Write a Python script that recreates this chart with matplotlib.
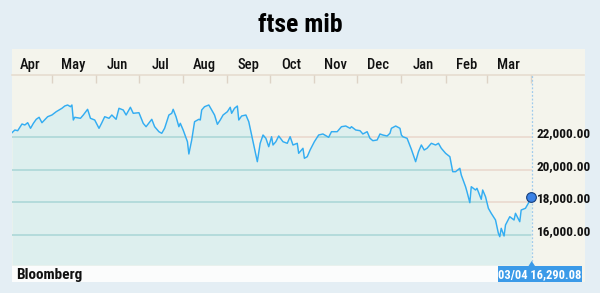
import numpy as np
import matplotlib.pyplot as plt
import matplotlib.dates as mdates
from matplotlib.patches import Rectangle, Polygon
from matplotlib.lines import Line2D

plt.rcParams['font.family'] = ['Roboto Condensed', 'DejaVu Sans']

# ftse mib, daily-ish closes (days counted from first point)
start = np.datetime64('2011-04-03')
days = [0, 2, 4, 7, 9, 11, 13, 15, 17, 19, 21, 24, 25, 28, 31, 35, 37, 39, 41, 42,
        43, 44, 48, 50, 53, 55, 58, 61, 63, 65, 68, 70, 73, 75, 78, 80, 83, 85, 89, 92,
        94, 98, 100, 103, 105, 107, 110, 112, 113, 115, 117, 118, 120, 123, 124, 126, 128, 131, 132, 133,
        135, 138, 140, 142, 144, 146, 148, 151, 153, 154, 156, 158, 159, 161, 164, 166, 169, 172, 174, 176,
        178, 180, 182, 183, 185, 187, 190, 193, 195, 197, 200, 201, 204, 205, 207, 209, 212, 215, 218, 222,
        224, 228, 231, 234, 237, 238, 241, 244, 246, 249, 251, 253, 256, 258, 260, 263, 265, 266, 269, 272,
        273, 274, 277, 280, 283, 285, 287, 289, 291, 294, 297, 299, 301, 304, 307, 309, 311, 314, 315, 318,
        319, 321, 322, 325, 326, 329, 330, 332, 334, 336, 339, 341, 342, 343, 345, 346, 349, 352, 353, 356,
        357, 360, 362, 364]
values = [22263, 22428, 22386, 22796, 22734, 22875, 22532, 22838, 23083, 23206, 22875, 23144, 23242, 23346, 23548, 23756, 23897, 23958, 23854, 23958,
          23040, 23206, 23144, 23346, 23695, 23144, 23040, 22532, 22875, 23242, 23144, 23346, 23083, 23756, 23652, 23346, 23818, 23450, 23487, 22838,
          22630, 23083, 22630, 22324, 22226, 22532, 23346, 23450, 23695, 23242, 22630, 22838, 22428, 21712, 20960, 21816, 22936, 23083, 23040, 23652,
          23854, 23958, 23652, 23346, 22777, 23040, 23346, 23548, 23818, 23450, 23756, 23897, 23040, 23285, 23346, 22936, 21712, 20488, 21614, 22122,
          21920, 21406, 22018, 21510, 21712, 22061, 21712, 21614, 22018, 21510, 21614, 21002, 21308, 20696, 20794, 21204, 21712, 22122, 22184, 21982,
          22324, 22324, 22630, 22673, 22532, 22630, 22428, 22386, 22184, 22324, 21920, 21774, 21816, 22184, 22122, 22061, 22226, 22532, 22673, 22532,
          22122, 22018, 21920, 21247, 20488, 21100, 21510, 21204, 21308, 21614, 21510, 21614, 21308, 21002, 20794, 19876, 19876, 20084, 19674, 18958,
          18652, 17979, 18958, 18756, 18860, 18187, 18756, 18346, 17636, 17330, 16920, 16106, 15898, 16412, 15941, 16614, 17122, 16920, 17330, 16816,
          17532, 17636, 17942, 18310]
gridvals = [16000, 18000, 20000, 22000]
gridlabels = ['16,000.00', '18,000.00', '20,000.00', '22,000.00']
title = 'ftse mib'
source = 'Bloomberg'
last_label = '03/04 16,290.08'

dates = start + np.array(days).astype('timedelta64[D]')

W, H = 600, 293
fig = plt.figure(figsize=(6, 2.93), dpi=100)
fig.patch.set_facecolor('#e4eef4')


def fx(px):
    return px / W


def fy(py):
    return 1 - py / H


# panel + header
fig.add_artist(Rectangle((fx(12), fy(282)), fx(585) - fx(12), fy(49) - fy(282),
                         transform=fig.transFigure, facecolor='#f4f4ec', edgecolor='none', zorder=-2))
fig.add_artist(Line2D([fx(12), fx(584)], [fy(75), fy(75)], transform=fig.transFigure,
                      color='#e6ddd0', lw=1.2, zorder=-1))
fig.text(0.5, fy(32), title, ha='center', va='baseline', fontsize=18.5, fontweight='heavy', color='black')

ax = fig.add_axes([fx(12), fy(265), fx(532) - fx(12), fy(75) - fy(265)])
ax.set_facecolor('none')
ymin, ymax = 14166, 25794
ax.set_ylim(ymin, ymax)
ax.set_xlim(start, start + np.timedelta64(365, 'D') - np.timedelta64(10, 'h'))

poly = ax.fill_between(dates, values, ymin, color='#ddefee', lw=0, zorder=1)
clip_path = poly.get_paths()[0]
for v in gridvals:
    ax.axhline(v, color='#ead9cf', lw=1.2, zorder=0.5)
    gl = ax.axhline(v, color='#acd8d8', lw=1.2, zorder=1.5)
    gl.set_clip_path(clip_path, ax.transData)

ax.plot(dates, values, color='#33adf2', lw=1.05, zorder=3)
ax.plot(dates[-1:], values[-1:], 'o', ms=7, mfc='#3b82e6', mec='#163f7c', mew=0.8, zorder=5, clip_on=False)

for s in ax.spines.values():
    s.set_visible(False)
ax.axvline(ax.get_xlim()[1], color='#9fcbec', lw=0.9, ls=(0, (1.5, 1.5)), zorder=2, clip_on=False)

ax.xaxis.tick_top()
ax.xaxis.set_major_locator(mdates.MonthLocator())
ax.xaxis.set_major_formatter(plt.NullFormatter())
ax.xaxis.set_minor_locator(mdates.MonthLocator(bymonthday=16))
ax.xaxis.set_minor_formatter(mdates.DateFormatter('%b'))
ax.tick_params(axis='x', which='major', direction='in', length=6, width=1, color='#ddd3c6')
ax.tick_params(axis='x', which='minor', length=0, pad=2.5, labelsize=10.5, labelcolor='#111111')
for t in ax.xaxis.get_minorticklabels():
    t.set_fontweight('medium')
ax.set_yticks([])

ytrans = ax.get_yaxis_transform()
for v, lab in zip(gridvals, gridlabels):
    ax.text(1.0096, v, lab, transform=ytrans, ha='left', va='baseline',
            fontsize=9.5, fontweight='bold', color='#111111', clip_on=False)

# bottom bar
fig.add_artist(Rectangle((fx(12), fy(282)), fx(497.5) - fx(12), fy(266) - fy(282),
                         transform=fig.transFigure, facecolor='#fbfcfc', edgecolor='none', zorder=1))
fig.text(fx(16), fy(278.5), source, ha='left', va='baseline', fontsize=11, fontweight='bold', color='#111111')
fig.add_artist(Rectangle((fx(497.5), fy(282)), fx(582) - fx(497.5), fy(266) - fy(282),
                         transform=fig.transFigure, facecolor='#3b9ae8', edgecolor='none', zorder=1))
fig.add_artist(Polygon([[fx(528.5), fy(266)], [fx(535), fy(266)], [fx(531.7), fy(261)]],
                       closed=True, transform=fig.transFigure, facecolor='#3b9ae8', edgecolor='none', zorder=1))
fig.text(fx(539.7), fy(278.5), last_label, ha='center', va='baseline', fontsize=9,
         fontweight='bold', color='white')

plt.savefig('out.png', dpi=100, facecolor=fig.get_facecolor())
